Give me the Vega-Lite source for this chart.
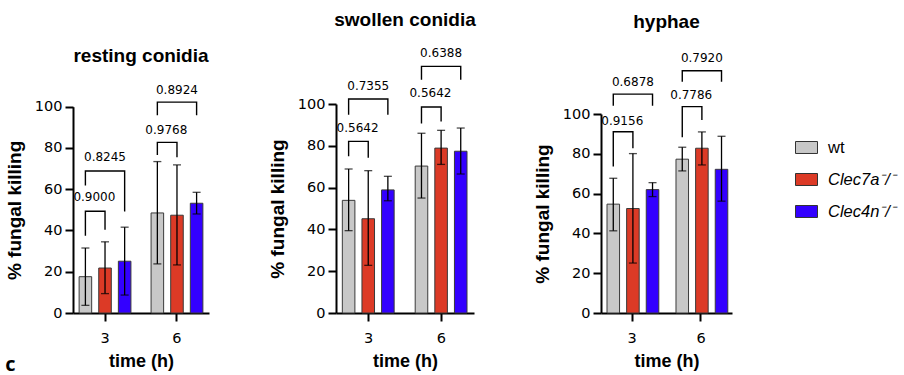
{
  "$schema": "https://vega.github.io/schema/vega-lite/v6.json",
  "padding": {"left": 5, "top": 11, "right": 5, "bottom": 5},
  "bounds": "flush",
  "spacing": 127,
  "title": {"text": "c", "orient": "bottom", "anchor": "start", "frame": "bounds", "font": "Open Sans", "fontSize": 20, "fontWeight": "bold", "offset": -16},
  "datasets": {
    "bars": [
      {"panel": "rest", "time": 3, "genotype": "wt", "mean": 17.6, "lo": 3.7, "hi": 31.5},
      {"panel": "rest", "time": 3, "genotype": "Clec7a", "mean": 21.8, "lo": 9.4, "hi": 34.5},
      {"panel": "rest", "time": 3, "genotype": "Clec4n", "mean": 25.1, "lo": 8.7, "hi": 41.6},
      {"panel": "rest", "time": 6, "genotype": "wt", "mean": 48.5, "lo": 23.8, "hi": 73.4},
      {"panel": "rest", "time": 6, "genotype": "Clec7a", "mean": 47.4, "lo": 23.3, "hi": 71.8},
      {"panel": "rest", "time": 6, "genotype": "Clec4n", "mean": 53.2, "lo": 48.0, "hi": 58.5},
      {"panel": "swol", "time": 3, "genotype": "wt", "mean": 53.9, "lo": 39.4, "hi": 68.9},
      {"panel": "swol", "time": 3, "genotype": "Clec7a", "mean": 45.1, "lo": 22.8, "hi": 68.1},
      {"panel": "swol", "time": 3, "genotype": "Clec4n", "mean": 58.9, "lo": 53.7, "hi": 65.4},
      {"panel": "swol", "time": 6, "genotype": "wt", "mean": 70.3, "lo": 55.0, "hi": 86.0},
      {"panel": "swol", "time": 6, "genotype": "Clec7a", "mean": 78.9, "lo": 71.1, "hi": 87.4},
      {"panel": "swol", "time": 6, "genotype": "Clec4n", "mean": 77.4, "lo": 66.5, "hi": 88.5},
      {"panel": "hyph", "time": 3, "genotype": "wt", "mean": 54.7, "lo": 41.3, "hi": 67.7},
      {"panel": "hyph", "time": 3, "genotype": "Clec7a", "mean": 52.5, "lo": 25.1, "hi": 80.1},
      {"panel": "hyph", "time": 3, "genotype": "Clec4n", "mean": 62.0, "lo": 58.5, "hi": 65.5},
      {"panel": "hyph", "time": 6, "genotype": "wt", "mean": 77.3, "lo": 71.4, "hi": 83.3},
      {"panel": "hyph", "time": 6, "genotype": "Clec7a", "mean": 82.8, "lo": 74.4, "hi": 91.0},
      {"panel": "hyph", "time": 6, "genotype": "Clec4n", "mean": 72.2, "lo": 56.2, "hi": 88.8}
    ],
    "brackets": [
      {"panel": "rest", "id": "r1", "time": 3, "genotype": "wt", "y": 37.5, "seq": 1},
      {"panel": "rest", "id": "r1", "time": 3, "genotype": "wt", "y": 49.3, "seq": 2},
      {"panel": "rest", "id": "r1", "time": 3, "genotype": "Clec7a", "y": 49.3, "seq": 3},
      {"panel": "rest", "id": "r1", "time": 3, "genotype": "Clec7a", "y": 40.4, "seq": 4},
      {"panel": "rest", "id": "r2", "time": 3, "genotype": "wt", "y": 61.8, "seq": 1},
      {"panel": "rest", "id": "r2", "time": 3, "genotype": "wt", "y": 68.8, "seq": 2},
      {"panel": "rest", "id": "r2", "time": 3, "genotype": "Clec4n", "y": 68.8, "seq": 3},
      {"panel": "rest", "id": "r2", "time": 3, "genotype": "Clec4n", "y": 49.2, "seq": 4},
      {"panel": "rest", "id": "r3", "time": 6, "genotype": "wt", "y": 76.6, "seq": 1},
      {"panel": "rest", "id": "r3", "time": 6, "genotype": "wt", "y": 82.7, "seq": 2},
      {"panel": "rest", "id": "r3", "time": 6, "genotype": "Clec7a", "y": 82.7, "seq": 3},
      {"panel": "rest", "id": "r3", "time": 6, "genotype": "Clec7a", "y": 75.5, "seq": 4},
      {"panel": "rest", "id": "r4", "time": 6, "genotype": "wt", "y": 95.8, "seq": 1},
      {"panel": "rest", "id": "r4", "time": 6, "genotype": "wt", "y": 102.2, "seq": 2},
      {"panel": "rest", "id": "r4", "time": 6, "genotype": "Clec4n", "y": 102.2, "seq": 3},
      {"panel": "rest", "id": "r4", "time": 6, "genotype": "Clec4n", "y": 95.8, "seq": 4},
      {"panel": "swol", "id": "s1", "time": 3, "genotype": "wt", "y": 75.0, "seq": 1},
      {"panel": "swol", "id": "s1", "time": 3, "genotype": "wt", "y": 82.1, "seq": 2},
      {"panel": "swol", "id": "s1", "time": 3, "genotype": "Clec7a", "y": 82.1, "seq": 3},
      {"panel": "swol", "id": "s1", "time": 3, "genotype": "Clec7a", "y": 74.3, "seq": 4},
      {"panel": "swol", "id": "s2", "time": 3, "genotype": "wt", "y": 94.9, "seq": 1},
      {"panel": "swol", "id": "s2", "time": 3, "genotype": "wt", "y": 102.4, "seq": 2},
      {"panel": "swol", "id": "s2", "time": 3, "genotype": "Clec4n", "y": 102.4, "seq": 3},
      {"panel": "swol", "id": "s2", "time": 3, "genotype": "Clec4n", "y": 94.9, "seq": 4},
      {"panel": "swol", "id": "s3", "time": 6, "genotype": "wt", "y": 90.7, "seq": 1},
      {"panel": "swol", "id": "s3", "time": 6, "genotype": "wt", "y": 98.6, "seq": 2},
      {"panel": "swol", "id": "s3", "time": 6, "genotype": "Clec7a", "y": 98.6, "seq": 3},
      {"panel": "swol", "id": "s3", "time": 6, "genotype": "Clec7a", "y": 91.6, "seq": 4},
      {"panel": "swol", "id": "s4", "time": 6, "genotype": "wt", "y": 111.6, "seq": 1},
      {"panel": "swol", "id": "s4", "time": 6, "genotype": "wt", "y": 118.0, "seq": 2},
      {"panel": "swol", "id": "s4", "time": 6, "genotype": "Clec4n", "y": 118.0, "seq": 3},
      {"panel": "swol", "id": "s4", "time": 6, "genotype": "Clec4n", "y": 111.6, "seq": 4},
      {"panel": "hyph", "id": "h1", "time": 3, "genotype": "wt", "y": 73.6, "seq": 1},
      {"panel": "hyph", "id": "h1", "time": 3, "genotype": "wt", "y": 91.1, "seq": 2},
      {"panel": "hyph", "id": "h1", "time": 3, "genotype": "Clec7a", "y": 91.1, "seq": 3},
      {"panel": "hyph", "id": "h1", "time": 3, "genotype": "Clec7a", "y": 82.8, "seq": 4},
      {"panel": "hyph", "id": "h2", "time": 3, "genotype": "wt", "y": 104.2, "seq": 1},
      {"panel": "hyph", "id": "h2", "time": 3, "genotype": "wt", "y": 110.0, "seq": 2},
      {"panel": "hyph", "id": "h2", "time": 3, "genotype": "Clec4n", "y": 110.0, "seq": 3},
      {"panel": "hyph", "id": "h2", "time": 3, "genotype": "Clec4n", "y": 104.2, "seq": 4},
      {"panel": "hyph", "id": "h3", "time": 6, "genotype": "wt", "y": 88.3, "seq": 1},
      {"panel": "hyph", "id": "h3", "time": 6, "genotype": "wt", "y": 103.7, "seq": 2},
      {"panel": "hyph", "id": "h3", "time": 6, "genotype": "Clec7a", "y": 103.7, "seq": 3},
      {"panel": "hyph", "id": "h3", "time": 6, "genotype": "Clec7a", "y": 97.0, "seq": 4},
      {"panel": "hyph", "id": "h4", "time": 6, "genotype": "wt", "y": 116.2, "seq": 1},
      {"panel": "hyph", "id": "h4", "time": 6, "genotype": "wt", "y": 121.7, "seq": 2},
      {"panel": "hyph", "id": "h4", "time": 6, "genotype": "Clec4n", "y": 121.7, "seq": 3},
      {"panel": "hyph", "id": "h4", "time": 6, "genotype": "Clec4n", "y": 116.2, "seq": 4}
    ],
    "pvals": [
      {"panel": "rest", "time": 3, "genotype": "wt", "span": "narrow", "y": 56.1, "label": "0.9000"},
      {"panel": "rest", "time": 3, "genotype": "Clec7a", "span": "wide", "y": 75.5, "label": "0.8245"},
      {"panel": "rest", "time": 6, "genotype": "wt", "span": "narrow", "y": 88.8, "label": "0.9768"},
      {"panel": "rest", "time": 6, "genotype": "Clec7a", "span": "wide", "y": 107.9, "label": "0.8924"},
      {"panel": "swol", "time": 3, "genotype": "wt", "span": "narrow", "y": 88.5, "label": "0.5642"},
      {"panel": "swol", "time": 3, "genotype": "Clec7a", "span": "wide", "y": 108.8, "label": "0.7355"},
      {"panel": "swol", "time": 6, "genotype": "wt", "span": "narrow", "y": 105.3, "label": "0.5642"},
      {"panel": "swol", "time": 6, "genotype": "Clec7a", "span": "wide", "y": 124.4, "label": "0.6388"},
      {"panel": "hyph", "time": 3, "genotype": "wt", "span": "narrow", "y": 96.7, "label": "0.9156"},
      {"panel": "hyph", "time": 3, "genotype": "Clec7a", "span": "wide", "y": 116.2, "label": "0.6878"},
      {"panel": "hyph", "time": 6, "genotype": "wt", "span": "narrow", "y": 109.5, "label": "0.7786"},
      {"panel": "hyph", "time": 6, "genotype": "Clec7a", "span": "wide", "y": 127.9, "label": "0.7920"}
    ]
  },
  "config": {
    "view": {"stroke": null},
    "font": "Liberation Sans",
    "axis": {"domainColor": "black", "domainWidth": 2, "tickColor": "black", "tickWidth": 2, "tickSize": 8, "labelColor": "black", "labelFont": "DejaVu Sans", "labelFontSize": 14.5, "titleFont": "Liberation Sans", "titleFontSize": 18, "titleFontWeight": "bold", "titleColor": "black", "grid": false},
    "axisX": {"labelAngle": 0, "labelPadding": 10, "titlePadding": 8},
    "axisY": {"labelPadding": 3, "titlePadding": 10, "titleFontSize": 19},
    "title": {"font": "Liberation Sans", "fontSize": 19, "fontWeight": "bold", "color": "black", "anchor": "middle", "frame": "group"},
    "legend": {"title": null, "orient": "right", "offset": 31, "padding": 32, "symbolType": "M-1,-0.545H1V0.545H-1Z", "symbolSize": 484, "symbolStrokeColor": "#333333", "symbolStrokeWidth": 1, "symbolOpacity": 1, "labelFont": "Liberation Sans", "labelFontSize": 16.5, "labelColor": "black", "labelOffset": 10, "rowPadding": 12}
  },
  "hconcat": [
    {
      "width": 136, "height": 209,
      "title": {"text": "resting conidia", "offset": 18},
      "encoding": {
        "x": {"field": "time", "type": "nominal", "title": "time (h)", "scale": {"paddingInner": 0.28, "paddingOuter": 0.085}},
        "xOffset": {"field": "genotype", "type": "nominal", "scale": {"domain": ["wt", "Clec7a", "Clec4n"], "paddingInner": 0.36, "paddingOuter": 0}}
      },
      "layer": [
        {"data": {"name": "bars"}, "transform": [{"filter": "datum.panel == 'rest'"}],
         "mark": {"type": "bar", "stroke": "#3a3a3a", "strokeWidth": 1, "clip": false},
         "encoding": {
           "y": {"field": "mean", "type": "quantitative", "title": "% fungal killing", "scale": {"domain": [0, 100], "range": [209, 2.7], "nice": false}, "axis": {"values": [0, 20, 40, 60, 80, 100]}},
           "color": {"field": "genotype", "type": "nominal", "scale": {"domain": ["wt", "Clec7a", "Clec4n"], "range": ["#c8c8c8", "#dc3a26", "#3300ff"]},
             "legend": {"labelExpr": "datum.label == 'wt' ? 'wt' : datum.label + '⁻/⁻'", "encode": {"labels": {"update": {"fontStyle": {"signal": "datum.value == 'wt' ? 'normal' : 'italic'"}}}}}}
         }},
        {"data": {"name": "bars"}, "transform": [{"filter": "datum.panel == 'rest'"}],
         "mark": {"type": "rule", "color": "black", "strokeWidth": 1.3, "clip": false},
         "encoding": {"y": {"field": "lo", "type": "quantitative", "title": "% fungal killing"}, "y2": {"field": "hi"}}},
        {"data": {"name": "bars"}, "transform": [{"filter": "datum.panel == 'rest'"}],
         "mark": {"type": "tick", "color": "black", "thickness": 1.3, "size": 8, "clip": false},
         "encoding": {"y": {"field": "lo", "type": "quantitative", "title": "% fungal killing"}}},
        {"data": {"name": "bars"}, "transform": [{"filter": "datum.panel == 'rest'"}],
         "mark": {"type": "tick", "color": "black", "thickness": 1.3, "size": 8, "clip": false},
         "encoding": {"y": {"field": "hi", "type": "quantitative", "title": "% fungal killing"}}},
        {"data": {"name": "brackets"}, "transform": [{"filter": "datum.panel == 'rest'"}],
         "mark": {"type": "line", "color": "black", "strokeWidth": 1.4, "clip": false},
         "encoding": {"y": {"field": "y", "type": "quantitative", "title": "% fungal killing"}, "detail": {"field": "id"}, "order": {"field": "seq"}}},
        {"data": {"name": "pvals"}, "transform": [{"filter": "datum.panel == 'rest' && datum.span == 'narrow'"}],
         "mark": {"type": "text", "font": "DejaVu Sans", "fontSize": 12, "dx": 9, "baseline": "middle", "color": "black", "clip": false},
         "encoding": {"y": {"field": "y", "type": "quantitative", "title": "% fungal killing"}, "text": {"field": "label"}}},
        {"data": {"name": "pvals"}, "transform": [{"filter": "datum.panel == 'rest' && datum.span == 'wide'"}],
         "mark": {"type": "text", "font": "DejaVu Sans", "fontSize": 12, "baseline": "middle", "color": "black", "clip": false},
         "encoding": {"y": {"field": "y", "type": "quantitative", "title": "% fungal killing"}, "text": {"field": "label"}}}
      ]
    },
    {
      "width": 138, "height": 209,
      "title": {"text": "swollen conidia", "offset": 17},
      "encoding": {
        "x": {"field": "time", "type": "nominal", "title": "time (h)", "scale": {"paddingInner": 0.28, "paddingOuter": 0.087}},
        "xOffset": {"field": "genotype", "type": "nominal", "scale": {"domain": ["wt", "Clec7a", "Clec4n"], "paddingInner": 0.37, "paddingOuter": 0}}
      },
      "layer": [
        {"data": {"name": "bars"}, "transform": [{"filter": "datum.panel == 'swol'"}],
         "mark": {"type": "bar", "stroke": "#3a3a3a", "strokeWidth": 1, "clip": false},
         "encoding": {
           "y": {"field": "mean", "type": "quantitative", "title": "% fungal killing", "scale": {"domain": [0, 100], "range": [209, 0], "nice": false}, "axis": {"values": [0, 20, 40, 60, 80, 100]}},
           "color": {"field": "genotype", "type": "nominal", "scale": {"domain": ["wt", "Clec7a", "Clec4n"], "range": ["#c8c8c8", "#dc3a26", "#3300ff"]},
             "legend": {"labelExpr": "datum.label == 'wt' ? 'wt' : datum.label + '⁻/⁻'", "encode": {"labels": {"update": {"fontStyle": {"signal": "datum.value == 'wt' ? 'normal' : 'italic'"}}}}}}
         }},
        {"data": {"name": "bars"}, "transform": [{"filter": "datum.panel == 'swol'"}],
         "mark": {"type": "rule", "color": "black", "strokeWidth": 1.3, "clip": false},
         "encoding": {"y": {"field": "lo", "type": "quantitative", "title": "% fungal killing"}, "y2": {"field": "hi"}}},
        {"data": {"name": "bars"}, "transform": [{"filter": "datum.panel == 'swol'"}],
         "mark": {"type": "tick", "color": "black", "thickness": 1.3, "size": 8, "clip": false},
         "encoding": {"y": {"field": "lo", "type": "quantitative", "title": "% fungal killing"}}},
        {"data": {"name": "bars"}, "transform": [{"filter": "datum.panel == 'swol'"}],
         "mark": {"type": "tick", "color": "black", "thickness": 1.3, "size": 8, "clip": false},
         "encoding": {"y": {"field": "hi", "type": "quantitative", "title": "% fungal killing"}}},
        {"data": {"name": "brackets"}, "transform": [{"filter": "datum.panel == 'swol'"}],
         "mark": {"type": "line", "color": "black", "strokeWidth": 1.4, "clip": false},
         "encoding": {"y": {"field": "y", "type": "quantitative", "title": "% fungal killing"}, "detail": {"field": "id"}, "order": {"field": "seq"}}},
        {"data": {"name": "pvals"}, "transform": [{"filter": "datum.panel == 'swol' && datum.span == 'narrow'"}],
         "mark": {"type": "text", "font": "DejaVu Sans", "fontSize": 12, "dx": 9, "baseline": "middle", "color": "black", "clip": false},
         "encoding": {"y": {"field": "y", "type": "quantitative", "title": "% fungal killing"}, "text": {"field": "label"}}},
        {"data": {"name": "pvals"}, "transform": [{"filter": "datum.panel == 'swol' && datum.span == 'wide'"}],
         "mark": {"type": "text", "font": "DejaVu Sans", "fontSize": 12, "baseline": "middle", "color": "black", "clip": false},
         "encoding": {"y": {"field": "y", "type": "quantitative", "title": "% fungal killing"}, "text": {"field": "label"}}}
      ]
    },
    {
      "width": 131, "height": 209,
      "title": {"text": "hyphae", "offset": 20},
      "encoding": {
        "x": {"field": "time", "type": "nominal", "title": "time (h)", "scale": {"paddingInner": 0.275, "paddingOuter": 0.087}},
        "xOffset": {"field": "genotype", "type": "nominal", "scale": {"domain": ["wt", "Clec7a", "Clec4n"], "paddingInner": 0.37, "paddingOuter": 0}}
      },
      "layer": [
        {"data": {"name": "bars"}, "transform": [{"filter": "datum.panel == 'hyph'"}],
         "mark": {"type": "bar", "stroke": "#3a3a3a", "strokeWidth": 1, "clip": false},
         "encoding": {
           "y": {"field": "mean", "type": "quantitative", "title": "% fungal killing", "scale": {"domain": [0, 100], "range": [209, 10], "nice": false}, "axis": {"values": [0, 20, 40, 60, 80, 100]}},
           "color": {"field": "genotype", "type": "nominal", "scale": {"domain": ["wt", "Clec7a", "Clec4n"], "range": ["#c8c8c8", "#dc3a26", "#3300ff"]},
             "legend": {"labelExpr": "datum.label == 'wt' ? 'wt' : datum.label + '⁻/⁻'", "encode": {"labels": {"update": {"fontStyle": {"signal": "datum.value == 'wt' ? 'normal' : 'italic'"}}}}}}
         }},
        {"data": {"name": "bars"}, "transform": [{"filter": "datum.panel == 'hyph'"}],
         "mark": {"type": "rule", "color": "black", "strokeWidth": 1.3, "clip": false},
         "encoding": {"y": {"field": "lo", "type": "quantitative", "title": "% fungal killing"}, "y2": {"field": "hi"}}},
        {"data": {"name": "bars"}, "transform": [{"filter": "datum.panel == 'hyph'"}],
         "mark": {"type": "tick", "color": "black", "thickness": 1.3, "size": 8, "clip": false},
         "encoding": {"y": {"field": "lo", "type": "quantitative", "title": "% fungal killing"}}},
        {"data": {"name": "bars"}, "transform": [{"filter": "datum.panel == 'hyph'"}],
         "mark": {"type": "tick", "color": "black", "thickness": 1.3, "size": 8, "clip": false},
         "encoding": {"y": {"field": "hi", "type": "quantitative", "title": "% fungal killing"}}},
        {"data": {"name": "brackets"}, "transform": [{"filter": "datum.panel == 'hyph'"}],
         "mark": {"type": "line", "color": "black", "strokeWidth": 1.4, "clip": false},
         "encoding": {"y": {"field": "y", "type": "quantitative", "title": "% fungal killing"}, "detail": {"field": "id"}, "order": {"field": "seq"}}},
        {"data": {"name": "pvals"}, "transform": [{"filter": "datum.panel == 'hyph' && datum.span == 'narrow'"}],
         "mark": {"type": "text", "font": "DejaVu Sans", "fontSize": 12, "dx": 9, "baseline": "middle", "color": "black", "clip": false},
         "encoding": {"y": {"field": "y", "type": "quantitative", "title": "% fungal killing"}, "text": {"field": "label"}}},
        {"data": {"name": "pvals"}, "transform": [{"filter": "datum.panel == 'hyph' && datum.span == 'wide'"}],
         "mark": {"type": "text", "font": "DejaVu Sans", "fontSize": 12, "baseline": "middle", "color": "black", "clip": false},
         "encoding": {"y": {"field": "y", "type": "quantitative", "title": "% fungal killing"}, "text": {"field": "label"}}}
      ]
    }
  ]
}
